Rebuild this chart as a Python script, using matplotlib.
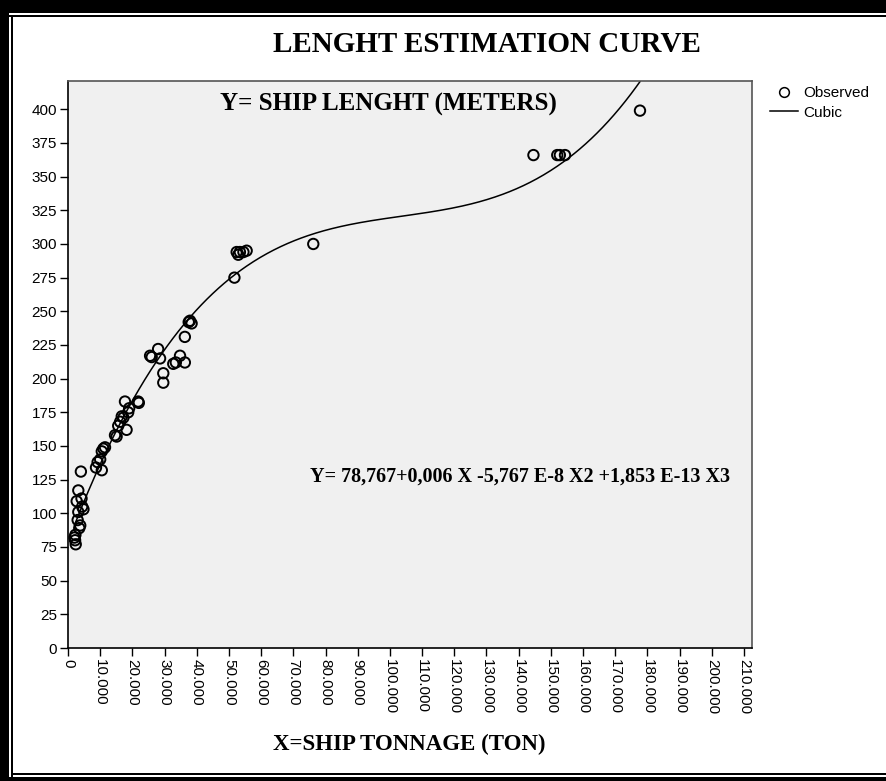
import matplotlib
matplotlib.use("Agg")
import matplotlib.pyplot as plt
import numpy as np
from matplotlib.ticker import FuncFormatter
from matplotlib.patches import Rectangle
from matplotlib.lines import Line2D

# Observed ships: tonnage (ton) and length (m)
tonnage = [2400, 2200, 2000, 2300, 3500, 3800, 3000, 3200, 4800, 4400, 2700, 4200, 3200, 4000,
           8700, 9200, 10500, 10000, 11000, 10500, 11500,
           14600, 15100, 15600, 16200, 17200, 18200, 18700, 17700, 21800, 16700, 19000, 22000,
           25500, 26000, 28000, 28600, 29600, 29600, 32700, 33500, 34800, 36300, 36300,
           37900, 38400, 37500,
           51700, 52400, 52900, 53400, 55500, 54500,
           76200,
           144600, 152000, 152800, 154400, 177700]
length = [77, 80, 82, 84, 89, 91, 95, 101, 103, 105, 109, 111, 117, 131,
          134, 138, 132, 140, 148, 146, 149,
          158, 157, 165, 168, 171, 162, 175, 183, 183, 172, 178, 182,
          217, 216, 222, 215, 204, 197, 211, 212, 217, 212, 231,
          243, 241, 242,
          275, 294, 292, 294, 295, 294,
          300,
          366, 366, 366, 366, 399]

# Cubic fit coefficients: Y = b0 + b1 X + b2 X^2 + b3 X^3
b0, b1, b2, b3 = 78.767, 0.00632, -5.767e-8, 1.853e-13

x_ticks = np.arange(0, 210001, 10000)
y_ticks = np.arange(0, 401, 25)

W, H, DPI = 886, 781, 100
fig = plt.figure(figsize=(W / DPI, H / DPI), dpi=DPI)
fig.patch.set_facecolor("white")

serif = "Liberation Serif"
sans = "Liberation Sans"

# Page frame: heavy band plus thin rule
def px_rect(x, y, w, h):
    fig.patches.append(Rectangle((x / W, 1 - (y + h) / H), w / W, h / H,
                                 transform=fig.transFigure, facecolor="black",
                                 edgecolor="none", zorder=0))

px_rect(0, 0, W, 13)          # top band
px_rect(0, 15, W, 2)          # top thin rule
px_rect(0, 0, 9, H)           # left band
px_rect(11, 15, 2, H - 15)    # left thin rule
px_rect(0, 777, W, 4)         # bottom band
px_rect(11, 773, W, 2)        # bottom thin rule

left, right, top, bottom = 68, 752, 81, 648
ax = fig.add_axes([left / W, 1 - bottom / H, (right - left) / W, (bottom - top) / H])
ax.set_facecolor("#f0f0f0")

xs = np.linspace(min(tonnage), max(tonnage), 500)
ys = b0 + b1 * xs + b2 * xs ** 2 + b3 * xs ** 3
ax.plot(xs, ys, color="black", lw=1.1, zorder=2)
ax.scatter(tonnage, length, s=56, facecolors="none", edgecolors="black",
           linewidths=1.4, zorder=3)

ax.set_xlim(0, 212500)
ax.set_ylim(0, 421)
ax.set_xticks(x_ticks)
ax.set_yticks(y_ticks)
ax.xaxis.set_major_formatter(FuncFormatter(lambda v, p: f"{int(v):,}".replace(",", ".")))
ax.tick_params(axis="both", direction="out", length=6, width=1, color="black",
               labelsize=11, pad=2)
for lab in ax.get_xticklabels():
    lab.set_rotation(-90)
    lab.set_va("top")
    lab.set_ha("center")
for lab in ax.get_xticklabels() + ax.get_yticklabels():
    lab.set_fontfamily(sans)
for s in ["left", "bottom"]:
    ax.spines[s].set_color("black")
    ax.spines[s].set_linewidth(1.2)
for s in ["top", "right"]:
    ax.spines[s].set_color("#555555")
    ax.spines[s].set_linewidth(1.2)

def fmt(v):
    return f"{v:.3f}".replace(".", ",")

eq = (f"Y= {fmt(b0)}+{fmt(b1)} X -{fmt(-b2 * 1e8)} E-8 X2 "
      f"+{fmt(b3 * 1e13)} E-13 X3")

fig.text(487 / W, 1 - 44 / H, "LENGHT ESTIMATION CURVE", family=serif,
         weight="bold", fontsize=21, ha="center", va="center")
fig.text(388 / W, 1 - 104 / H, "Y= SHIP LENGHT (METERS)", family=serif,
         weight="bold", fontsize=18, ha="center", va="center")
fig.text(520 / W, 1 - 477 / H, eq, family=serif, weight="bold", fontsize=14.5,
         ha="center", va="center")
fig.text(409 / W, 1 - 744 / H, "X=SHIP TONNAGE (TON)", family=serif,
         weight="bold", fontsize=16.5, ha="center", va="center")

handles = [Line2D([], [], marker="o", ls="none", mfc="none", mec="black",
                  ms=7, mew=1.1, label="Observed"),
           Line2D([], [], color="black", lw=1.1, label="Cubic")]
fig.legend(handles=handles, loc="upper left", bbox_to_anchor=(770 / W, 1 - 86 / H),
           frameon=False, prop={"family": sans, "size": 11}, handlelength=1.85,
           handletextpad=0.35, labelspacing=0.38, borderaxespad=0, borderpad=0)

fig.savefig("out.png", dpi=DPI)
